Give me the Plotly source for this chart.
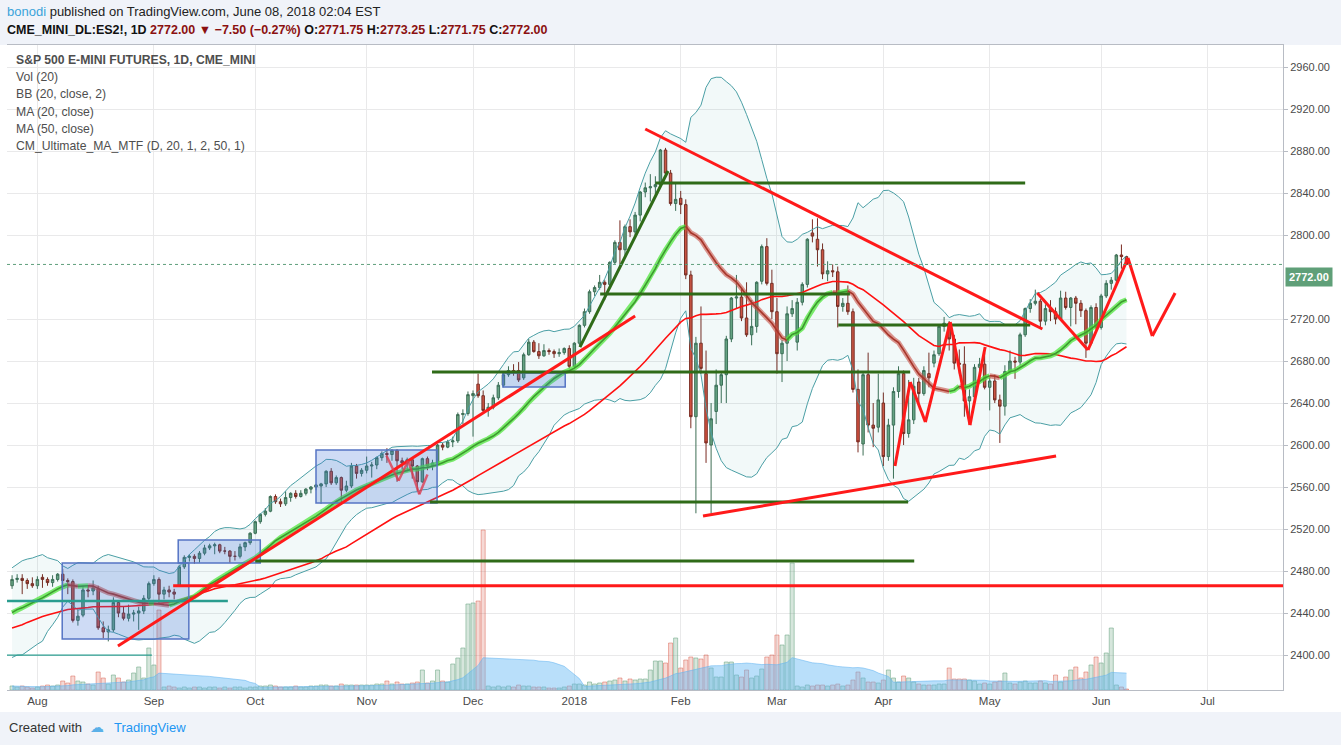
import numpy as np
import pandas as pd
import plotly.graph_objects as go

# ---------------- data ----------------
# closes before the first visible bar (history used only to warm up MA / BB)
pre_close = [2387, 2398, 2397, 2353, 2362, 2378, 2390, 2394, 2400, 2411, 2412, 2409, 2408,
             2426, 2435, 2432, 2425, 2429, 2430, 2428, 2425, 2436, 2434, 2428, 2429, 2450,
             2433, 2432, 2431, 2434, 2435, 2415, 2437, 2416, 2419,
             2425, 2428, 2406, 2421, 2423, 2422, 2439, 2444, 2455, 2455, 2457, 2470, 2469,
             2468, 2466]

open_ = [2466, 2472, 2473, 2471, 2468, 2466, 2474, 2472, 2469, 2472, 2477, 2471, 2470, 2433, 2438, 2462, 2461, 2463, 2426, 2422,
         2424, 2450, 2440, 2435, 2439, 2440, 2442, 2454, 2468, 2472, 2458, 2462, 2460, 2466, 2484, 2493, 2494, 2492, 2497, 2502,
         2504, 2505, 2499, 2499, 2494, 2494, 2503, 2507, 2516, 2527, 2534, 2537, 2551, 2546, 2544, 2550, 2554, 2551, 2554, 2558,
         2560, 2561, 2563, 2575, 2564, 2569, 2557, 2561, 2580, 2573, 2576, 2580, 2581, 2588, 2592, 2591, 2595, 2585, 2583, 2586,
         2580, 2565, 2587, 2580, 2583, 2600, 2598, 2603, 2604, 2629, 2630, 2647, 2658, 2647, 2633, 2636, 2645, 2657, 2667, 2671,
         2671, 2664, 2686, 2698, 2689, 2685, 2690, 2689, 2687, 2688, 2692, 2675, 2697, 2714, 2727, 2746, 2750, 2755, 2753, 2774,
         2793, 2786, 2808, 2803, 2819, 2841, 2845, 2846, 2848, 2881, 2859, 2830, 2835, 2829, 2762, 2627, 2697, 2668, 2600, 2632,
         2657, 2667, 2701, 2740, 2741, 2721, 2705, 2713, 2756, 2789, 2754, 2727, 2687, 2697, 2725, 2698, 2736, 2753, 2802, 2796,
         2786, 2763, 2766, 2765, 2732, 2735, 2727, 2653, 2601, 2667, 2619, 2617, 2640, 2589, 2619, 2651, 2668, 2611, 2624, 2660,
         2649, 2668, 2678, 2687, 2713, 2716, 2701, 2678, 2677, 2642, 2646, 2674, 2677, 2655, 2661, 2643, 2637, 2670, 2680, 2679,
         2705, 2730, 2735, 2737, 2718, 2730, 2727, 2720, 2740, 2731, 2740, 2735, 2728, 2697, 2731, 2712, 2742, 2754, 2757, 2781,
         2779.5]
high = [2476, 2477, 2477, 2473, 2474, 2475, 2477, 2474, 2476, 2478, 2482, 2473, 2472, 2443, 2466, 2466, 2471, 2466, 2432, 2428,
        2455, 2452, 2446, 2448, 2443, 2446, 2457, 2470, 2476, 2474, 2465, 2466, 2463, 2486, 2495, 2496, 2496, 2499, 2505, 2506,
        2507, 2506, 2503, 2500, 2499, 2506, 2508, 2517, 2528, 2535, 2540, 2552, 2553, 2549, 2556, 2555, 2557, 2557, 2559, 2561,
        2563, 2564, 2576, 2578, 2571, 2570, 2566, 2583, 2582, 2578, 2589, 2584, 2589, 2594, 2597, 2596, 2596, 2588, 2588, 2587,
        2581, 2588, 2589, 2586, 2601, 2602, 2605, 2608, 2631, 2634, 2651, 2652, 2668, 2652, 2640, 2648, 2660, 2669, 2675, 2677,
        2679, 2688, 2701, 2700, 2697, 2696, 2692, 2691, 2692, 2693, 2695, 2698, 2715, 2730, 2748, 2752, 2762, 2757, 2775, 2795,
        2814, 2810, 2815, 2822, 2842, 2850, 2858, 2856, 2882, 2883, 2862, 2850, 2842, 2834, 2766, 2703, 2732, 2690, 2640, 2672,
        2670, 2704, 2741, 2762, 2749, 2755, 2738, 2756, 2791, 2797, 2767, 2740, 2700, 2732, 2738, 2740, 2755, 2797, 2815, 2816,
        2792, 2775, 2772, 2770, 2740, 2752, 2730, 2672, 2670, 2688, 2640, 2668, 2650, 2625, 2655, 2675, 2671, 2662, 2664, 2664,
        2675, 2688, 2690, 2715, 2722, 2718, 2705, 2691, 2694, 2653, 2677, 2683, 2688, 2664, 2667, 2648, 2676, 2690, 2684, 2707,
        2731, 2739, 2748, 2739, 2734, 2738, 2731, 2747, 2746, 2741, 2742, 2738, 2730, 2733, 2735, 2744, 2757, 2760, 2782, 2791,
        2780]
low = [2463, 2469, 2458, 2463, 2464, 2463, 2464, 2466, 2465, 2470, 2466, 2458, 2431, 2428, 2436, 2455, 2457, 2424, 2416, 2413,
       2422, 2436, 2433, 2432, 2432, 2424, 2439, 2452, 2466, 2449, 2453, 2455, 2453, 2465, 2482, 2489, 2487, 2488, 2495, 2500,
       2496, 2497, 2496, 2488, 2490, 2492, 2499, 2505, 2515, 2525, 2532, 2536, 2544, 2541, 2542, 2546, 2549, 2550, 2552, 2554,
       2557, 2544, 2560, 2562, 2562, 2543, 2555, 2559, 2568, 2570, 2573, 2569, 2577, 2585, 2583, 2585, 2565, 2577, 2575, 2568,
       2556, 2564, 2576, 2576, 2582, 2595, 2597, 2598, 2602, 2620, 2628, 2608, 2645, 2630, 2627, 2634, 2643, 2655, 2665, 2666,
       2660, 2662, 2685, 2688, 2682, 2684, 2686, 2683, 2684, 2686, 2673, 2673, 2695, 2712, 2725, 2742, 2748, 2738, 2751, 2772,
       2770, 2778, 2798, 2800, 2813, 2836, 2832, 2838, 2845, 2856, 2828, 2823, 2820, 2758, 2616, 2535, 2668, 2583, 2535, 2620,
       2640, 2640, 2698, 2730, 2718, 2703, 2695, 2707, 2753, 2752, 2720, 2668, 2660, 2680, 2722, 2690, 2733, 2750, 2793, 2770,
       2758, 2756, 2760, 2712, 2727, 2724, 2650, 2593, 2590, 2612, 2598, 2612, 2580, 2585, 2568, 2645, 2600, 2607, 2620, 2640,
       2647, 2655, 2674, 2685, 2708, 2690, 2672, 2668, 2627, 2620, 2643, 2665, 2653, 2633, 2640, 2602, 2628, 2668, 2663, 2676,
       2703, 2726, 2733, 2712, 2714, 2718, 2715, 2719, 2729, 2713, 2715, 2722, 2683, 2695, 2710, 2710, 2740, 2748, 2754, 2768,
       2771.75]
close = [2472, 2473, 2471, 2468, 2466, 2472, 2472, 2469, 2472, 2477, 2471, 2470, 2433, 2437, 2462, 2461, 2464, 2426, 2422, 2424,
         2450, 2440, 2435, 2439, 2440, 2442, 2454, 2468, 2472, 2458, 2462, 2460, 2458, 2484, 2493, 2494, 2492, 2497, 2502, 2504,
         2505, 2499, 2499, 2494, 2494, 2503, 2507, 2516, 2527, 2534, 2537, 2551, 2546, 2544, 2550, 2554, 2551, 2554, 2558, 2560,
         2562, 2563, 2575, 2564, 2569, 2557, 2561, 2580, 2573, 2576, 2580, 2581, 2588, 2592, 2591, 2595, 2585, 2583, 2586, 2580,
         2565, 2587, 2580, 2583, 2600, 2598, 2603, 2604, 2629, 2630, 2648, 2649, 2647, 2633, 2636, 2645, 2657, 2667, 2671, 2670,
         2662, 2686, 2698, 2689, 2685, 2690, 2689, 2687, 2688, 2692, 2675, 2697, 2714, 2727, 2746, 2750, 2755, 2753, 2774, 2793,
         2786, 2808, 2803, 2819, 2841, 2845, 2846, 2848, 2881, 2859, 2830, 2834, 2829, 2762, 2627, 2697, 2673, 2602, 2625, 2657,
         2667, 2701, 2740, 2741, 2721, 2705, 2713, 2755, 2789, 2754, 2727, 2687, 2697, 2725, 2730, 2736, 2753, 2796, 2799, 2786,
         2763, 2766, 2765, 2732, 2735, 2727, 2653, 2603, 2667, 2619, 2616, 2643, 2589, 2619, 2651, 2668, 2611, 2624, 2656, 2649,
         2671, 2664, 2686, 2713, 2716, 2701, 2678, 2677, 2642, 2646, 2674, 2677, 2655, 2661, 2643, 2637, 2670, 2680, 2679, 2705,
         2730, 2735, 2737, 2718, 2730, 2727, 2720, 2740, 2731, 2740, 2735, 2728, 2697, 2731, 2712, 2742, 2754, 2757, 2781, 2779.5,
         2772]
volume = [4, 3, 4, 3, 2, 3, 4, 5, 4, 5, 9, 7, 14, 9, 8, 6, 5, 18, 12, 6,
          15, 12, 8, 10, 17, 23, 12, 42, 25, 80, 3, 4, 3, 2, 3, 2, 3, 3, 2, 3,
          3, 2, 3, 2, 3, 3, 2, 3, 3, 4, 4, 5, 4, 3, 3, 3, 4, 3, 3, 4,
          4, 5, 5, 4, 4, 6, 5, 5, 5, 5, 5, 5, 6, 6, 9, 6, 8, 6, 6, 7,
          8, 20, 7, 9, 20, 9, 8, 26, 32, 42, 86, 87, 89, 160, 4, 3, 4, 3, 4, 3,
          5, 4, 4, 3, 3, 3, 2, 2, 2, 3, 4, 6, 6, 5, 8, 6, 7, 8, 9, 10,
          12, 9, 11, 10, 11, 11, 20, 29, 29, 27, 47, 52, 22, 30, 33, 32, 31, 35, 22, 13,
          13, 28, 28, 15, 13, 20, 12, 14, 21, 33, 35, 55, 45, 55, 127, 4, 3, 5, 4, 5,
          5, 4, 5, 6, 4, 5, 10, 18, 12, 8, 8, 7, 10, 20, 12, 8, 14, 12, 8, 6,
          5, 5, 5, 6, 6, 22, 11, 11, 11, 10, 9, 6, 7, 6, 8, 9, 17, 7, 6, 8,
          9, 7, 7, 9, 7, 6, 15, 8, 13, 20, 23, 12, 18, 25, 33, 27, 37, 62, 5, 3,
          1]

month_ticks = [5, 28, 48, 70, 91, 111, 132, 151, 172, 193, 215, 236]
month_labels = ["Aug", "Sep", "Oct", "Nov", "Dec", "2018", "Feb", "Mar", "Apr", "May", "Jun", "Jul"]
price_ticks = [2400, 2440, 2480, 2520, 2560, 2600, 2640, 2680, 2720, 2800, 2840, 2880, 2920, 2960]
last_price = 2772.0
last_label_level = 2760.0

# user drawings (bar index, price)
red_lines = [(125.0, 2901.0, 203.4, 2710.5),
             (31.8, 2466.0, 262.0, 2466.0),
             (136.4, 2532.4, 206.1, 2589.5),
             (20.9, 2408.6, 123.0, 2722.9)]
red_paths = [[(174.3, 2580.0), (177.3, 2660.0), (180.3, 2621.9), (185.2, 2717.1), (189.1, 2619.0), (192.1, 2693.3)],
             [(202.4, 2744.8), (212.4, 2690.5), (220.3, 2778.1), (225.1, 2703.8), (229.6, 2744.8)]]
pink_path = [(73.9, 2590.0), (76.3, 2566.0), (78.2, 2585.0), (80.4, 2553.0), (82.0, 2572.0)]
green_lines = [(127.0, 200.0, 2849.5), (116.1, 165.4, 2743.8), (163.1, 201.0, 2714.3),
               (82.9, 177.3, 2669.5), (82.5, 176.9, 2545.7), (48.0, 178.1, 2489.5)]
green_diag = (112.1, 2693.3, 129.5, 2861.0)
teal_lines = [(-1.0, 42.6, 2451.4, 2.5), (-1.0, 27.6, 2400.0, 1.2)]
boxes = [(9.9, 34.9, 2415.2, 2487.6), (32.8, 49.0, 2487.6, 2509.5),
         (60.0, 83.9, 2544.8, 2595.2), (96.9, 109.2, 2655.2, 2668.6)]

# ---------------- indicators ----------------
n = len(close)
x = np.arange(n)
s_all = pd.Series(pre_close + close, dtype=float)
k0 = len(pre_close)
ma20 = s_all.rolling(20).mean().to_numpy()[k0:]
sd20 = s_all.rolling(20).std(ddof=0).to_numpy()[k0:]
ma50 = s_all.rolling(50, min_periods=1).mean().to_numpy()[k0:]
bb_up = ma20 + 2 * sd20
bb_lo = ma20 - 2 * sd20
vol_ma = pd.Series(volume, dtype=float).rolling(20, min_periods=1).mean().to_numpy()

fig = go.Figure()

# volume (base axis y, hidden)
vcol = ["rgba(107,165,131,0.28)" if c >= o else "rgba(215,84,66,0.22)" for o, c in zip(open_, close)]
vline = ["rgba(107,165,131,0.55)" if c >= o else "rgba(215,84,66,0.45)" for o, c in zip(open_, close)]
fig.add_trace(go.Bar(x=x, y=volume, marker=dict(color=vcol, line=dict(color=vline, width=1)),
                     width=0.8, yaxis="y", hoverinfo="skip"))
fig.add_trace(go.Scatter(x=x, y=vol_ma, mode="lines", line=dict(color="rgba(100,180,240,0.55)", width=1),
                         fill="tozeroy", fillcolor="rgba(100,185,245,0.45)", yaxis="y", hoverinfo="skip"))

# Bollinger bands
fig.add_trace(go.Scatter(x=x, y=bb_lo, mode="lines", line=dict(color="#4a9fa5", width=1), yaxis="y2", hoverinfo="skip"))
fig.add_trace(go.Scatter(x=x, y=bb_up, mode="lines", line=dict(color="#4a9fa5", width=1), yaxis="y2",
                         fill="tonexty", fillcolor="rgba(0,140,130,0.05)", hoverinfo="skip"))
# MA 50
fig.add_trace(go.Scatter(x=x, y=ma50, mode="lines", line=dict(color="#ff1010", width=1.6), yaxis="y2", hoverinfo="skip"))

# MA 20 colored by slope (CM_Ultimate style)
runs = []
cur = None
for i in range(1, n):
    up = ma20[i] >= ma20[i - 1]
    if cur is None or cur[0] != up:
        cur = [up, [i - 1, i]]
        runs.append(cur)
    else:
        cur[1].append(i)
for up, idx in runs:
    glow = "rgba(80,230,60,0.75)" if up else "rgba(200,80,70,0.6)"
    core = "#3d9a2f" if up else "#a8362a"
    fig.add_trace(go.Scatter(x=idx, y=ma20[idx], mode="lines", line=dict(color=glow, width=5),
                             yaxis="y2", hoverinfo="skip"))
    fig.add_trace(go.Scatter(x=idx, y=ma20[idx], mode="lines", line=dict(color=core, width=1.6),
                             yaxis="y2", hoverinfo="skip"))

# candles
fig.add_trace(go.Candlestick(x=x, open=open_, high=high, low=low, close=close, yaxis="y2",
                             increasing=dict(line=dict(color="#3e6e55", width=1), fillcolor="#6ba583"),
                             decreasing=dict(line=dict(color="#7a2a20", width=1), fillcolor="#d75442"),
                             whiskerwidth=0, hoverinfo="skip"))

shapes = []
# boxes
for x0, x1, y0, y1 in boxes:
    shapes.append(dict(type="rect", xref="x", yref="y2", x0=x0, x1=x1, y0=y0, y1=y1,
                       fillcolor="rgba(60,110,215,0.25)", line=dict(color="#5574c4", width=1.5)))
# horizontal green lines
for x0, x1, yv in green_lines:
    shapes.append(dict(type="line", xref="x", yref="y2", x0=x0, x1=x1, y0=yv, y1=yv,
                       line=dict(color="#2f6b18", width=3)))
gx0, gy0, gx1, gy1 = green_diag
shapes.append(dict(type="line", xref="x", yref="y2", x0=gx0, x1=gx1, y0=gy0, y1=gy1,
                   line=dict(color="#2f6b18", width=3)))
for x0, x1, yv, w in teal_lines:
    shapes.append(dict(type="line", xref="x", yref="y2", x0=x0, x1=x1, y0=yv, y1=yv,
                       line=dict(color="#2a9d8f", width=w)))
for x0, y0, x1, y1 in red_lines:
    shapes.append(dict(type="line", xref="x", yref="y2", x0=x0, x1=x1, y0=y0, y1=y1,
                       line=dict(color="#ff1a1a", width=3)))
for path in red_paths:
    for (x0, y0), (x1, y1) in zip(path[:-1], path[1:]):
        shapes.append(dict(type="line", xref="x", yref="y2", x0=x0, x1=x1, y0=y0, y1=y1,
                           line=dict(color="#ff1a1a", width=3)))
for (x0, y0), (x1, y1) in zip(pink_path[:-1], pink_path[1:]):
    shapes.append(dict(type="line", xref="x", yref="y2", x0=x0, x1=x1, y0=y0, y1=y1,
                       line=dict(color="rgba(220,60,80,0.8)", width=2.5)))
# last price dotted line
shapes.append(dict(type="line", xref="paper", yref="y2", x0=0, x1=1, y0=last_price, y1=last_price,
                   line=dict(color="#5f9f7c", width=1, dash="dot")))

# backgrounds for header / footer
W, H = 1341, 745
L, R, T, B = 7, 58, 45, 55
pw, ph = W - L - R, H - T - B


def px(xp):
    return (xp - L) / pw


def py(yp):
    return (H - B - yp) / ph


shapes.append(dict(type="rect", xref="paper", yref="paper", x0=px(0), x1=px(W), y0=py(45), y1=py(0),
                   fillcolor="#f0f3f9", line=dict(width=0), layer="below"))
shapes.append(dict(type="rect", xref="paper", yref="paper", x0=px(0), x1=px(W), y0=py(745), y1=py(712),
                   fillcolor="#f0f3f9", line=dict(width=0), layer="below"))

annotations = []
hdr_font = dict(family="Liberation Sans, Arial, sans-serif", size=13, color="#222")
annotations.append(dict(xref="paper", yref="paper", x=px(5), y=py(11), xanchor="left", yanchor="middle",
                        showarrow=False, font=hdr_font,
                        text="<span style='color:#3aa3da'>bonodi</span> published on TradingView.com, June 08, 2018 02:04 EST"))
red = "#8b1010"
line2 = ("<b>CME_MINI_DL:ES2!, 1D</b> <b><span style='color:%s'>2772.00 ▼ −7.50 (−0.27%%)</span></b> "
         "<b>O:<span style='color:%s'>2771.75</span> H:<span style='color:%s'>2773.25</span> "
         "L:<span style='color:%s'>2771.75</span> C:<span style='color:%s'>2772.00</span></b>") % (red, red, red, red, red)
annotations.append(dict(xref="paper", yref="paper", x=px(5), y=py(30), xanchor="left", yanchor="middle",
                        showarrow=False, font=dict(family="Liberation Sans, Arial, sans-serif", size=12.5, color="#111"),
                        text=line2))
legend_lines = ["S&P 500 E-MINI FUTURES, 1D, CME_MINI", "Vol (20)", "BB (20, close, 2)", "MA (20, close)",
                "MA (50, close)", "CM_Ultimate_MA_MTF (D, 20, 1, 2, 50, 1)"]
for k, t in enumerate(legend_lines):
    annotations.append(dict(xref="paper", yref="paper", x=px(14), y=py(60 + k * 17.2), xanchor="left",
                            yanchor="middle", showarrow=False,
                            font=dict(family="Liberation Sans, Arial, sans-serif", size=12.2, color="#4e4e4e"),
                            text=("<b>%s</b>" % t) if k == 0 else t))
annotations.append(dict(xref="paper", yref="y2", x=1.0, y=last_label_level, xanchor="left", yanchor="middle",
                        showarrow=False, bgcolor="#5f9f78", borderpad=3, xshift=2,
                        font=dict(family="Liberation Sans, Arial, sans-serif", size=11, color="white"),
                        text="<b>2772.00</b>"))
annotations.append(dict(xref="paper", yref="paper", x=px(7), y=py(727), xanchor="left", yanchor="middle",
                        showarrow=False, font=dict(family="Liberation Sans, Arial, sans-serif", size=13, color="#333"),
                        text="Created with"))
annotations.append(dict(xref="paper", yref="paper", x=px(112), y=py(727), xanchor="left", yanchor="middle",
                        showarrow=False, font=dict(family="Liberation Sans, Arial, sans-serif", size=13, color="#2196f3"),
                        text="TradingView"))
annotations.append(dict(xref="paper", yref="paper", x=px(88), y=py(727), xanchor="left", yanchor="middle",
                        showarrow=False, font=dict(family="DejaVu Sans, sans-serif", size=14, color="#5ab0e8"),
                        text="☁"))

fig.update_layout(
    width=W, height=H, margin=dict(l=L, r=R, t=T, b=B),
    paper_bgcolor="white", plot_bgcolor="white", showlegend=False,
    xaxis=dict(range=[-1.0, 250.9], tickvals=month_ticks, ticktext=month_labels, showgrid=True,
               gridcolor="#e9e9ea", gridwidth=1, zeroline=False, rangeslider=dict(visible=False),
               showline=True, linecolor="#b8bcc4", mirror=True, ticks="",
               tickfont=dict(family="Liberation Sans, Arial, sans-serif", size=11.5, color="#4a4a4a")),
    yaxis=dict(range=[0, 645], visible=False, fixedrange=True),
    yaxis2=dict(range=[2366.7, 2981.0], overlaying="y", side="right", tickvals=price_ticks,
                tickformat=".2f", showgrid=True, gridcolor="#e9e9ea", gridwidth=1, zeroline=False,
                showline=True, linecolor="#b8bcc4", ticks="outside", ticklen=4, tickcolor="#b8bcc4",
                tickfont=dict(family="Liberation Sans, Arial, sans-serif", size=11, color="#4a4a4a")),
    shapes=shapes, annotations=annotations,
)

fig.write_html("out.html", config={"displayModeBar": False},
               post_script="document.body.style.margin='0';document.body.style.overflow='hidden';")
